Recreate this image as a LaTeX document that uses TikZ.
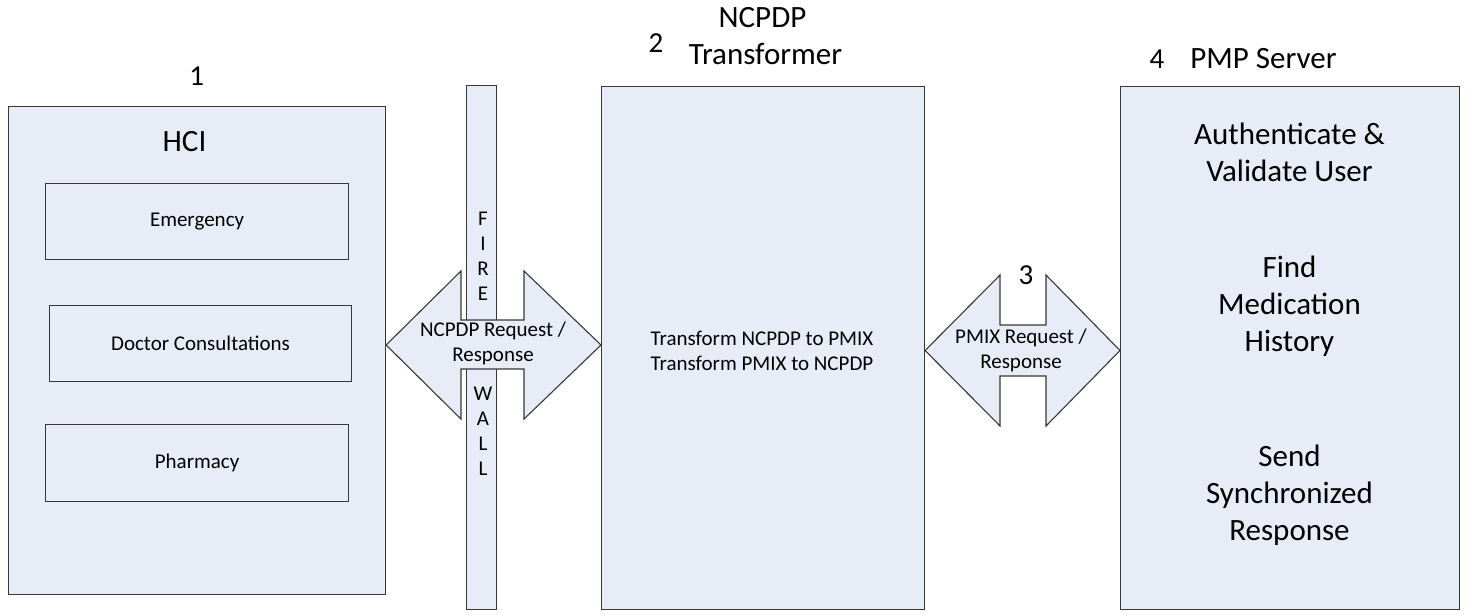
\documentclass[tikz,border=0pt]{standalone}
\usepackage{fontspec}
\setmainfont{Carlito}
\definecolor{boxfill}{RGB}{231,236,246}
\definecolor{linec}{RGB}{55,55,55}
\begin{document}
\begin{tikzpicture}[x=1pt,y=-1pt,
  box/.style={draw=linec, fill=boxfill, line width=1.1pt, inner sep=0pt},
  blk/.style={box, anchor=north west},
  big/.style={font=\fontsize{31}{37}\selectfont, inner sep=0pt},
  num/.style={font=\fontsize{29}{32}\selectfont, inner sep=0pt},
  small/.style={font=\fontsize{21}{25}\selectfont, inner sep=0pt},
  arrowshape/.style={draw=linec, fill=boxfill, line width=1.1pt, line join=miter}
  ]
\useasboundingbox (0,0) rectangle (1467,615);

% HCI container
\node[blk, minimum width=377pt, minimum height=488pt] (hci) at (8,106) {};
\node[big, anchor=base] (hcilabel) at (184.5,151.7) {HCI};
\node[num, anchor=base] (n1) at (196.7,85.7) {1};
\node[blk, minimum width=303pt, minimum height=76pt, small] (emerg) at (45,183) {Emergency};
\node[blk, minimum width=302pt, minimum height=76pt, small] (doc) at (49,305) {Doctor Consultations};
\node[blk, minimum width=303pt, minimum height=77pt, small] (pharm) at (45,424) {Pharmacy};

% Firewall
\node[blk, minimum width=30pt, minimum height=524pt] (fw) at (466,85) {};
\node[small, align=center, anchor=base] (fwtop) at (483,300) {F\\I\\R\\E};
\node[small, align=center, anchor=base] (fwbot) at (483,475) {W\\A\\L\\L};

% Transformer
\node[blk, minimum width=323pt, minimum height=523pt] (trans) at (601,86) {};
\node[big, anchor=base] (tr1) at (762.5,28) {NCPDP};
\node[big, anchor=base] (tr2) at (765.5,65) {Transformer};
\node[num, anchor=base] (n2) at (656,53) {2};
\node[small, align=center, anchor=base] (trtext) at (762,370) {Transform NCPDP to PMIX\\Transform PMIX to NCPDP};

% PMP server
\node[blk, minimum width=339pt, minimum height=523pt] (pmp) at (1120,86) {};
\node[num, anchor=base] (n4) at (1157,69) {4};
\node[big, anchor=base] (pmplabel) at (1263.5,69) {PMP Server};
\node[big, align=center, anchor=base] (auth) at (1289.5,182) {Authenticate \&\\Validate User};
\node[big, align=center, anchor=base] (find) at (1289.5,351) {Find\\Medication\\History};
\node[big, align=center, anchor=base] (send) at (1289.5,540) {Send\\Synchronized\\Response};

% NCPDP double arrow (HCI <-> Transformer)
\coordinate (a1l) at (hci.east |- 0,345);
\coordinate (a1r) at (trans.west |- 0,345);
\draw[arrowshape] (a1l) -- (461,271) -- (461,320) -- (524,320) -- (524,271)
  -- (a1r) -- (524,419) -- (524,369) -- (461,369) -- (461,419) -- cycle;
\node[small, align=center, anchor=base] (a1text) at (493,361) {NCPDP Request /\\Response};

% PMIX double arrow (Transformer <-> PMP)
\coordinate (a2l) at (trans.east |- 0,350.5);
\coordinate (a2r) at (pmp.west |- 0,350.5);
\draw[arrowshape] (a2l) -- (1000,275) -- (1000,325) -- (1046,325) -- (1046,275)
  -- (a2r) -- (1046,426) -- (1046,376) -- (1000,376) -- (1000,426) -- cycle;
\node[small, align=center, anchor=base] (a2text) at (1021,368) {PMIX Request /\\Response};
\node[num, anchor=base] (n3) at (1026,284) {3};
\end{tikzpicture}
\end{document}
